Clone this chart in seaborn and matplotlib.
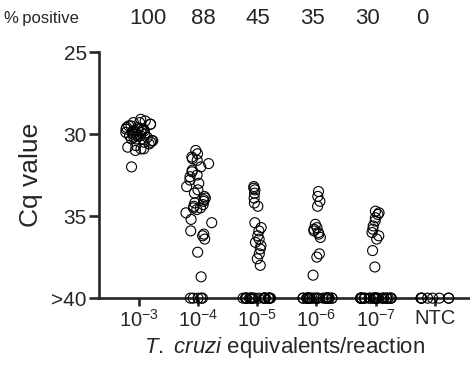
import numpy as np
import pandas as pd
import matplotlib
matplotlib.use('Agg')
import matplotlib.pyplot as plt
import matplotlib.transforms as mtransforms
import seaborn as sns

# ── Data ──────────────────────────────────────────────────────────────
groups = ['10^-3', '10^-4', '10^-5', '10^-6', '10^-7', 'NTC']
tick_labels = [r'$10^{-3}$', r'$10^{-4}$', r'$10^{-5}$', r'$10^{-6}$', r'$10^{-7}$', 'NTC']
pct_positive = ['100', '88', '45', '35', '30', '0']
NEG_CQ = 40   # non-detects plotted at the ">40" line

cq_1e3 = [29.1, 29.2, 29.3, 29.3, 29.4, 29.4, 29.5, 29.5, 29.6, 29.6,
          29.7, 29.7, 29.7, 29.8, 29.8, 29.8, 29.9, 29.9, 29.9, 30.0,
          30.0, 30.0, 30.1, 30.1, 30.1, 30.2, 30.2, 30.3, 30.3, 30.4,
          30.4, 30.5, 30.5, 30.6, 30.7, 30.8, 30.9, 30.9, 31.0, 32.0]
cq_1e4 = [31.0, 31.2, 31.4, 31.5, 31.6, 31.8, 32.0, 32.2, 32.3, 32.5,
          32.6, 32.8, 33.0, 33.2, 33.4, 33.6, 33.8, 33.9, 34.0, 34.1,
          34.2, 34.3, 34.4, 34.5, 34.5, 34.6, 34.8, 35.2, 35.4, 35.9,
          36.1, 36.2, 36.4, 37.2, 38.7] + [NEG_CQ] * 5
cq_1e5 = [33.2, 33.3, 33.4, 33.6, 33.9, 34.2, 34.4, 35.4, 35.7, 35.9,
          36.2, 36.4, 36.6, 36.8, 37.0, 37.3, 37.6, 38.0] + [NEG_CQ] * 22
cq_1e6 = [33.5, 33.8, 34.1, 34.4, 35.5, 35.7, 35.8, 35.9, 36.0, 36.1,
          36.3, 37.3, 37.5, 38.6] + [NEG_CQ] * 26
cq_1e7 = [34.7, 34.8, 34.9, 35.1, 35.3, 35.6, 35.8, 36.0, 36.2, 36.4,
          37.1, 38.1] + [NEG_CQ] * 28
cq_ntc = [NEG_CQ] * 8

series = [cq_1e3, cq_1e4, cq_1e5, cq_1e6, cq_1e7, cq_ntc]
df = pd.DataFrame({
    'group': np.repeat(groups, [len(s) for s in series]),
    'cq': np.concatenate(series),
})

# ── Style ─────────────────────────────────────────────────────────────
sns.set_style('ticks')
plt.rcParams['font.family'] = ['Liberation Sans', 'DejaVu Sans']
plt.rcParams['mathtext.fontset'] = 'custom'
plt.rcParams['mathtext.rm'] = 'Liberation Sans'
plt.rcParams['mathtext.it'] = 'Liberation Sans:italic'

fig = plt.figure(figsize=(4.7, 3.69), dpi=100)
ax = fig.add_axes([0.211, 0.192, 0.789, 0.667])

np.random.seed(3)
pos = df[df['cq'] < NEG_CQ]
neg = df[df['cq'] >= NEG_CQ]
kw = dict(x='group', y='cq', order=groups, size=7.2, color='black',
          linewidth=0.8, ax=ax)
# spread of the scatter differs between dilutions
sns.stripplot(data=pos[pos['group'].isin(['10^-3', '10^-4'])], jitter=0.24, **kw)
sns.stripplot(data=pos[~pos['group'].isin(['10^-3', '10^-4'])], jitter=0.07, **kw)
sns.stripplot(data=neg[neg['group'] == '10^-4'], jitter=0.15, **kw)
sns.stripplot(data=neg[neg['group'] == 'NTC'], jitter=0.26, **kw)
sns.stripplot(data=neg[~neg['group'].isin(['10^-4', 'NTC'])], jitter=0.28, **kw)
for coll in list(ax.collections):
    if len(coll.get_offsets()) == 0:
        coll.remove()   # seaborn leaves empty scatters for unused categories
        continue
    coll.set_facecolor('none')
    coll.set_edgecolor('black')
    coll.set_clip_on(False)

ax.set_ylim(40, 25)
ax.set_xlim(-0.68, 5.6)
ax.set_yticks([25, 30, 35, 40])
ax.set_yticklabels(['25', '30', '35', '>40'], fontsize=15)
ax.set_xticks(range(len(groups)))
ax.set_xticklabels(tick_labels, fontsize=14.5)
ax.set_ylabel('Cq value', fontsize=19, labelpad=6)
ax.set_xlabel(r'$\mathit{T.\ cruzi}$ equivalents/reaction', fontsize=16, labelpad=3)
ax.spines[['top', 'right']].set_visible(False)
for side in ['left', 'bottom']:
    ax.spines[side].set_linewidth(1.9)
ax.tick_params(axis='y', width=1.9, length=7, pad=2)
ax.tick_params(axis='x', width=1.9, length=6, pad=2)

# "% positive" header row
fig.text(0.008, 0.951, '%\u2009positive', ha='left', va='center', fontsize=12)
trans = mtransforms.blended_transform_factory(ax.transData, fig.transFigure)
for i, p in enumerate(pct_positive):
    ax.text(0.15 + 0.93 * i, 0.951, p, transform=trans, ha='center',
            va='center', fontsize=16)

fig.savefig('out.png', dpi=100)
